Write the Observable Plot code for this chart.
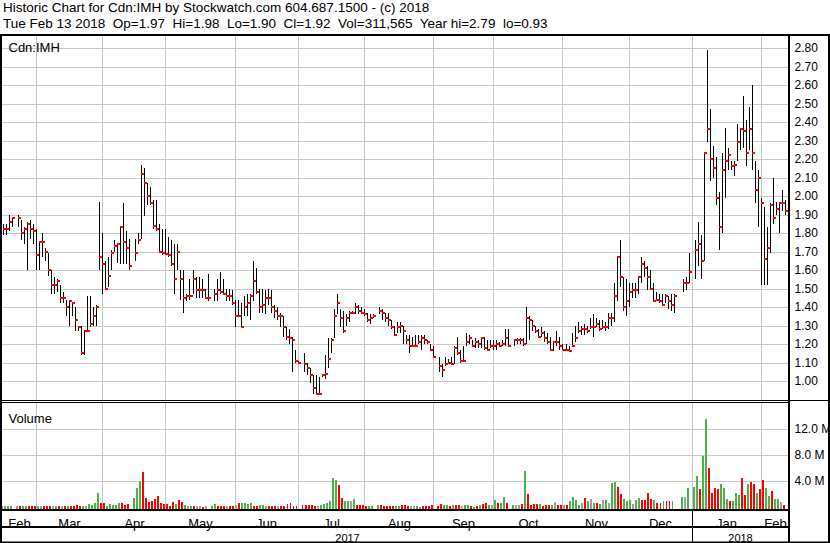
<!DOCTYPE html>
<html><head><meta charset="utf-8">
<script src="https://cdn.jsdelivr.net/npm/d3@7"></script>
<script src="https://cdn.jsdelivr.net/npm/@observablehq/plot@0.6"></script>
<style>
html,body{margin:0;padding:0;background:#fff;}
#chart{position:relative;width:830px;height:543px;overflow:hidden;background:#fff;font-family:"Liberation Sans",Arial,sans-serif;color:#000;}
#chart .t{position:absolute;left:3px;font-size:13.5px;line-height:16px;white-space:pre;}
</style></head>
<body><div id="chart"></div>
<script>
// ---------- DATA (one slot per weekday from 2017-02-14; null = market holiday) ----------
const startDate = "2017-02-14";
const titleLine1 = "Historic Chart for Cdn:IMH by Stockwatch.com 604.687.1500 - (c) 2018";
const titleLine2 = "Tue Feb 13 2018  Op=1.97  Hi=1.98  Lo=1.90  Cl=1.92  Vol=311,565  Year hi=2.79  lo=0.93";
const symbolLabel = "Cdn:IMH";
const volumeLabel = "Volume";

const high = [
 1.85,1.85,1.90,1.88,null,1.90,1.87,1.83,1.86,1.87,1.85,
 1.82,1.75,1.80,1.72,1.69,1.60,1.56,1.55,1.52,1.48,1.44,1.44,1.42,1.40,1.30,1.30,1.27,1.46,1.46,1.40,1.41,1.97,1.80,
 1.65,1.67,1.71,1.76,1.74,1.84,1.96,1.81,1.77,null,1.77,1.80,2.17,2.15,2.07,2.05,1.98,1.98,1.85,1.82,
 1.82,1.78,1.76,1.74,1.74,1.60,1.60,1.47,1.55,1.60,1.56,1.56,1.55,1.50,1.58,null,1.50,1.55,1.59,1.55,1.50,1.50,1.49,
 1.44,1.44,1.42,1.46,1.47,1.47,1.65,1.61,1.50,1.50,1.49,1.50,1.49,1.41,1.40,1.37,1.35,1.29,1.28,1.24,1.17,1.11,
 null,1.15,1.10,1.07,1.03,1.03,1.02,1.03,1.14,1.23,1.23,1.39,1.47,1.39,1.38,1.36,1.38,1.38,1.42,1.41,1.40,
 1.39,1.37,1.36,1.36,null,1.40,1.39,1.37,1.37,1.33,1.30,1.32,1.32,1.30,1.25,1.25,1.24,1.25,1.25,1.25,1.25,1.22,1.20,
 1.19,null,1.13,1.09,1.13,1.12,1.13,1.19,1.24,1.17,1.19,1.26,1.25,1.22,1.23,1.22,1.23,1.24,1.22,1.22,1.22,
 1.22,1.21,1.22,1.28,1.28,null,1.22,1.23,1.23,1.23,1.40,1.35,1.33,1.30,1.28,1.29,1.27,1.26,1.24,1.21,1.27,1.24,
 1.20,1.20,1.19,1.26,1.30,1.32,1.30,1.31,1.30,1.34,1.36,1.34,1.33,1.33,1.32,1.37,1.37,1.53,1.67,1.76,1.56,1.55,
 1.53,1.53,1.53,1.57,1.67,1.65,1.62,1.60,1.53,1.48,1.47,1.47,1.47,1.46,1.47,1.47,null,null,1.55,1.56,1.69,
 null,1.76,1.86,1.79,2.23,2.79,2.47,2.27,2.21,2.02,2.23,2.37,2.26,2.19,2.19,2.39,2.37,2.54,2.41,2.48,2.60,2.19,2.14,
 1.99,1.94,1.83,1.96,2.10,1.97,1.97,2.03,1.98
];
const low = [
 1.79,1.79,1.81,1.83,null,1.83,1.76,1.74,1.60,1.77,1.74,
 1.60,1.60,1.67,1.65,1.57,1.47,1.47,1.48,1.42,1.42,1.35,1.30,1.35,1.27,1.27,1.14,1.14,1.27,1.29,1.30,1.30,1.60,1.47,
 1.49,1.51,1.60,1.70,1.64,1.63,1.63,1.63,1.60,null,1.65,1.74,1.77,1.89,1.95,1.95,1.82,1.81,1.69,1.68,
 1.69,1.67,1.62,1.47,1.60,1.44,1.37,1.43,1.44,1.47,1.45,1.45,1.45,1.45,1.43,null,1.43,1.43,1.47,1.47,1.43,1.43,1.41,
 1.29,1.35,1.29,1.35,1.35,1.33,1.43,1.47,1.37,1.37,1.36,1.41,1.37,1.34,1.33,1.29,1.24,1.22,1.20,1.05,1.10,1.09,
 null,1.05,1.03,0.99,0.93,0.93,0.93,1.02,1.01,1.07,1.15,1.23,1.36,1.29,1.26,1.30,1.32,1.36,1.36,1.36,1.36,
 1.35,1.32,1.31,1.34,null,1.36,1.33,1.32,1.30,1.28,1.25,1.26,1.26,1.20,1.20,1.15,1.19,1.19,1.20,1.17,1.20,1.20,1.16,
 1.13,null,1.05,1.02,1.08,1.09,1.09,1.09,1.14,1.10,1.11,1.19,1.20,1.19,1.18,1.18,1.18,1.17,1.17,1.18,1.17,
 1.17,1.19,1.19,1.19,1.19,null,1.19,1.20,1.20,1.19,1.20,1.22,1.27,1.26,1.23,1.24,1.21,1.20,1.16,1.16,1.19,1.17,
 1.17,1.16,1.16,1.19,1.21,1.26,1.25,1.25,1.26,1.28,1.24,1.29,1.27,1.28,1.27,1.28,1.30,1.32,1.43,1.51,1.38,1.35,
 1.40,1.45,1.45,1.47,1.53,1.56,1.49,1.49,1.43,1.43,1.42,1.41,1.42,1.39,1.38,1.37,null,null,1.48,1.49,1.53,
 null,1.55,1.62,1.55,1.65,2.29,2.08,2.10,1.95,1.71,1.80,1.99,2.14,2.14,2.11,2.19,2.25,2.26,2.16,2.25,2.14,1.96,1.83,
 1.52,1.52,1.52,1.69,1.85,1.90,1.80,1.92,1.90
];
const close = [
 1.82,1.82,1.86,1.88,null,1.88,1.80,1.82,1.85,1.82,1.81,
 1.68,1.75,1.75,1.70,1.60,1.52,1.52,1.54,1.45,1.45,1.40,1.43,1.42,1.33,1.29,1.15,1.27,1.27,1.31,1.35,1.40,1.67,1.63,
 1.50,1.57,1.69,1.73,1.74,1.83,1.75,1.72,1.62,null,1.69,1.76,2.12,2.07,2.00,1.96,1.84,1.82,1.70,1.69,
 1.685,1.68,1.63,1.55,1.70,1.55,1.45,1.46,1.46,1.55,1.49,1.49,1.49,1.45,1.45,null,1.47,1.49,1.48,1.47,1.46,1.46,1.42,
 1.35,1.35,1.29,1.40,1.42,1.46,1.54,1.48,1.40,1.41,1.45,1.45,1.40,1.38,1.35,1.35,1.29,1.24,1.23,1.22,1.11,1.10,
 null,1.09,1.07,1.03,0.96,0.93,0.93,1.03,1.04,1.12,1.22,1.35,1.42,1.34,1.27,1.34,1.37,1.37,1.40,1.38,1.37,
 1.36,1.33,1.34,1.35,null,1.38,1.37,1.34,1.33,1.29,1.25,1.29,1.30,1.27,1.22,1.19,1.19,1.19,1.21,1.23,1.22,1.21,1.17,
 1.13,null,1.08,1.06,1.09,1.10,1.09,1.18,1.15,1.11,1.11,1.21,1.23,1.19,1.21,1.20,1.23,1.18,1.17,1.19,1.19,
 1.20,1.19,1.20,1.23,1.19,null,1.22,1.22,1.22,1.20,1.34,1.33,1.30,1.27,1.24,1.26,1.23,1.21,1.17,1.21,1.21,1.19,
 1.17,1.17,1.16,1.19,1.23,1.27,1.28,1.28,1.27,1.29,1.29,1.31,1.28,1.29,1.29,1.34,1.34,1.46,1.67,1.56,1.40,1.43,
 1.48,1.49,1.49,1.56,1.63,1.61,1.56,1.50,1.43,1.44,1.43,1.41,1.46,1.43,1.41,1.46,null,null,1.53,1.53,1.59,
 null,1.71,1.74,1.65,2.23,2.36,2.20,2.15,1.99,1.83,2.14,2.19,2.22,2.16,2.17,2.29,2.36,2.35,2.23,2.36,2.23,2.03,2.10,
 1.96,1.66,1.72,1.95,1.88,1.93,1.96,1.96,1.92
];
// volume in millions of shares
const volume = [
 0.2,0.15,0.1,0.1,null,0.1,0.1,0.1,0.15,0.1,0.15,
 0.2,0.1,0.1,0.15,0.2,0.15,0.1,0.15,0.2,0.15,0.2,0.15,0.2,0.2,0.25,0.2,0.15,0.2,0.45,0.25,0.6,2.1,0.6,
 0.6,0.15,0.45,0.3,0.3,0.6,0.6,0.3,0.45,null,1.4,2.9,4.0,5.4,1.4,0.75,0.85,1.2,1.7,0.6,
 0.5,0.5,0.2,0.75,0.45,1.05,0.7,0.3,0.2,0.2,0.1,0.1,0.1,0.05,0.2,null,0.2,0.5,0.1,0.1,0.2,0.1,0.2,
 0.2,0.3,0.55,0.6,0.6,0.4,0.6,0.2,0.1,0.25,0.3,0.1,0.1,0.1,0.2,0.2,0.2,0.2,0.45,0.6,0.2,0.2,
 null,0.3,0.3,0.3,0.3,0.1,0.2,0.3,0.4,0.6,0.9,4.4,4.1,3.35,1.37,0.9,0.85,0.9,1.2,0.3,0.3,
 0.3,0.2,0.1,0.2,null,0.3,0.3,0.1,0.2,0.1,0.2,0.2,0.2,0.3,0.3,0.2,0.1,0.1,0.1,0.05,0.1,0.1,0.2,
 0.25,null,0.15,0.45,0.3,0.3,0.15,0.3,0.3,0.3,0.15,0.3,0.3,0.15,0.05,0.15,0.3,0.45,0.55,0.3,0.3,
 1.05,0.65,0.65,1.5,0.6,null,0.3,0.3,0.3,0.5,5.6,2.0,0.3,0.45,0.45,0.45,0.15,0.3,0.3,0.3,0.7,0.3,
 0.3,0.3,0.3,0.85,1.5,1.15,0.3,0.55,1.35,0.95,1.3,0.55,0.55,0.45,1.15,1.15,0.65,3.7,3.9,3.1,2.0,1.2,
 0.95,1.05,0.45,1.05,1.45,1.05,1.05,2.2,1.2,1.05,0.65,0.65,0.85,0.85,0.85,0.85,null,null,1.5,1.5,3.0,
 null,3.1,4.7,2.7,7.8,13.5,6.0,2.2,3.0,2.7,3.6,3.0,1.3,0.9,0.9,2.2,1.9,4.4,1.8,3.6,3.9,3.5,2.1,
 2.7,4.2,2.9,1.7,2.4,1.2,1.2,0.76,0.31
];

const monthStarts = ["2017-03-01","2017-04-01","2017-05-01","2017-06-01","2017-07-01","2017-08-01",
  "2017-09-01","2017-10-01","2017-11-01","2017-12-01","2018-01-01","2018-02-01"];
const monthNames = ["Feb","Mar","Apr","May","Jun","Jul","Aug","Sep","Oct","Nov","Dec","Jan","Feb"];
const yearNames = ["2017","2018"];
const yearStart = "2018-01-01";
const priceTicks = [1.00,1.10,1.20,1.30,1.40,1.50,1.60,1.70,1.80,1.90,2.00,2.10,2.20,2.30,2.40,2.50,2.60,2.70,2.80];
const volumeTicks = [4e6, 8e6, 12e6];

// ---------- helpers ----------
const DAY = 864e5;
const t0 = Date.parse(startDate + "T00:00:00Z");
function slotOf(s) { // weekday slot of the last weekday on or before date s
  let t = Date.parse(s + "T00:00:00Z");
  while ([0, 6].includes(new Date(t).getUTCDay())) t -= DAY;
  let n = 0;
  for (let u = t0; u < t; u += DAY) { const w = new Date(u).getUTCDay(); if (w !== 0 && w !== 6) n++; }
  return n;
}
const rows = [];
high.forEach((h, i) => { if (h != null) rows.push({i, hi: h, lo: low[i], cl: close[i], vol: volume[i] * 1e6}); });
rows.forEach((d, k) => {
  const p = k ? rows[k - 1].cl : d.cl;
  d.dir = d.cl > p ? "up" : d.cl < p ? "down" : "flat";
});
const volColor = {up: "#4cb04c", down: "#ff0000", flat: "#a0a0a0"};

const xDomain = [-0.33, high.length + 0.3];
const monthIdx = monthStarts.map(slotOf);
const edges = [xDomain[0], ...monthIdx, xDomain[1]];
const monthRows = monthNames.map((label, k) => ({label, x: (edges[k] + edges[k + 1]) / 2}));
const yIdx = slotOf(yearStart);
const yEdges = [xDomain[0], yIdx, xDomain[1]];
const yearRows = yearNames.map((label, k) => ({label, x: (yEdges[k] + yEdges[k + 1]) / 2}));

const FONT = "'Liberation Sans', Arial, sans-serif";
const baseStyle = {fontFamily: FONT, fontSize: "12px", background: "transparent", overflow: "visible", color: "#000"};
const xOpt = {type: "linear", domain: xDomain, round: true, axis: null};
const grid = {stroke: "#c8c8c8", strokeOpacity: 1, strokeWidth: 1};

const root = document.getElementById("chart");
function put(el, top) { el.style.position = "absolute"; el.style.left = "0px"; el.style.top = top + "px"; root.appendChild(el); }

// title
[titleLine1, titleLine2].forEach((s, k) => {
  const d = document.createElement("div"); d.className = "t"; d.textContent = s; d.style.top = (k * 16) + "px"; root.appendChild(d);
});

// price panel
const priceSvg = Plot.plot({
  width: 830, height: 368, marginLeft: 2, marginRight: 41, marginTop: 2, marginBottom: 2,
  x: xOpt,
  y: {domain: [0.8973, 2.8649], round: true, axis: null},
  style: baseStyle,
  marks: [
    Plot.gridY(priceTicks, grid),
    Plot.gridX(monthIdx, grid),
    Plot.ruleX(rows, {x: "i", y1: "lo", y2: "hi", stroke: "#000", strokeWidth: 1, shapeRendering: "crispEdges"}),
    Plot.rect(rows, {x1: "i", x2: d => d.i + 1, y1: "cl", y2: "cl", insetTop: -1, insetBottom: -1, fill: "#ff0000", shapeRendering: "crispEdges"}),
    Plot.axisY(priceTicks, {anchor: "right", tickSize: 0, tickPadding: 5, tickFormat: d3.format(".2f"), fontSize: 12, label: null}),
    Plot.text([symbolLabel], {text: d => d, frameAnchor: "top-left", dx: 6, dy: 6, fontSize: 13})
  ]
});
put(priceSvg, 34);

// volume panel
const volSvg = Plot.plot({
  width: 830, height: 107, marginLeft: 2, marginRight: 41, marginTop: 1, marginBottom: 2,
  x: xOpt,
  y: {domain: [0, 16e6], round: true, axis: null},
  style: baseStyle,
  marks: [
    Plot.gridY(volumeTicks, grid),
    Plot.gridX(monthIdx, {...grid, insetBottom: -2}),
    Plot.rect(rows, {x1: d => d.i - 0.75, x2: d => d.i - 0.1, y1: 0, y2: "vol", fill: d => volColor[d.dir], insetBottom: -2, shapeRendering: "crispEdges"}),
    Plot.axisY(volumeTicks, {anchor: "right", tickSize: 0, tickPadding: 5, tickFormat: d => (d / 1e6).toFixed(1) + " M", fontSize: 12, label: null}),
    Plot.text([volumeLabel], {text: d => d, frameAnchor: "top-left", dx: 6, dy: 10, fontSize: 13})
  ]
});
put(volSvg, 402);

// date axis rows
const axSvg = Plot.plot({
  width: 830, height: 34, marginLeft: 2, marginRight: 41, marginTop: 0, marginBottom: 1,
  x: xOpt,
  style: baseStyle,
  marks: [
    Plot.ruleX([yIdx], {stroke: "#000", strokeWidth: 1}),
    Plot.text(monthRows, {x: "x", text: "label", frameAnchor: "top", dy: 9, fontSize: 13}),
    Plot.text(yearRows, {x: "x", text: "label", frameAnchor: "top", dy: 24.8, fontSize: 11})
  ]
});
put(axSvg, 509);

// frame lines
const ov = d3.create("svg").attr("width", 830).attr("height", 543);
const frameLines = [
  [0, 35, 830, 35, 2], [1, 34, 1, 543, 2], [829, 34, 829, 543, 2], [789, 34, 789, 543, 2],
  [0, 400.5, 830, 400.5, 1], [0, 402.5, 789, 402.5, 1],
  [0, 510, 789, 510, 2], [0, 527, 789, 527, 2], [0, 542.25, 830, 542.25, 1.5]
];
ov.selectAll("line").data(frameLines).join("line")
  .attr("x1", d => d[0]).attr("y1", d => d[1]).attr("x2", d => d[2]).attr("y2", d => d[3])
  .attr("stroke", "#000").attr("stroke-width", d => d[4]);
const ovNode = ov.node(); ovNode.style.pointerEvents = "none";
put(ovNode, 0);
</script>
</body></html>
